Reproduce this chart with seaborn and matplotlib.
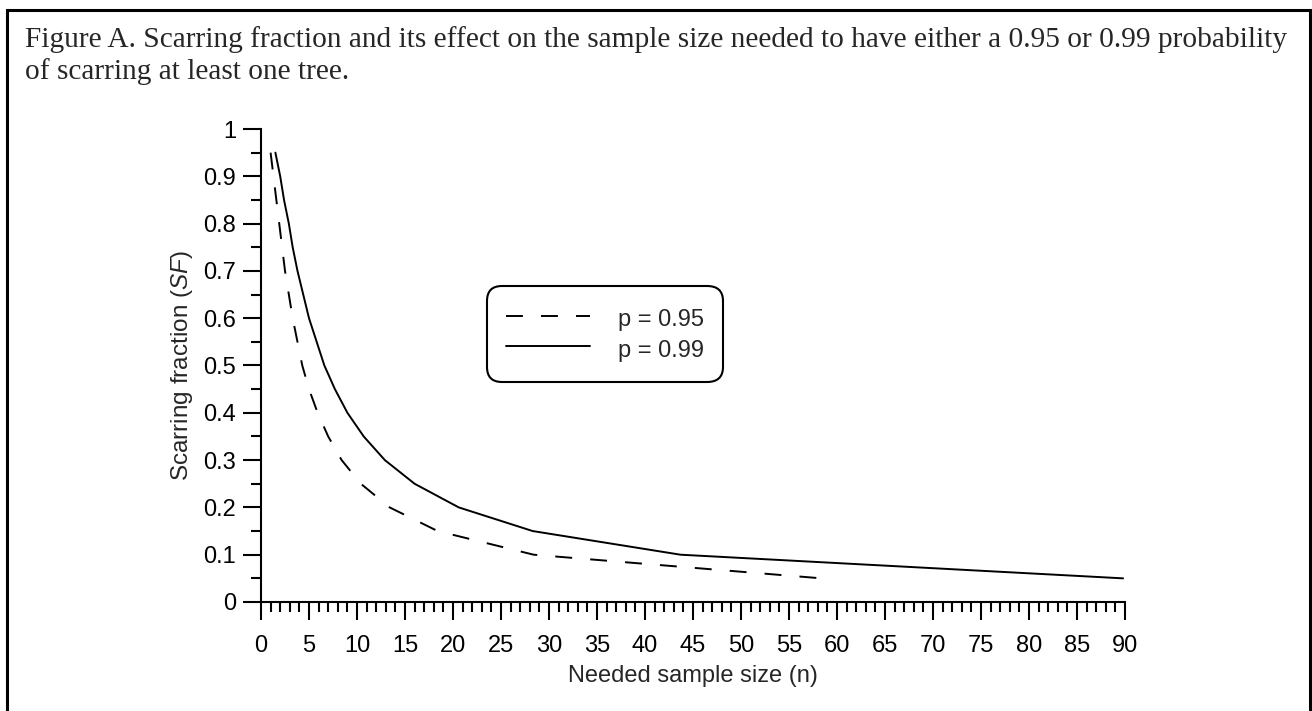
import matplotlib
matplotlib.use('Agg')
import matplotlib.pyplot as plt
import matplotlib.patches as mpatches
from matplotlib.ticker import MultipleLocator, FuncFormatter
import pandas as pd
import seaborn as sns


# Values
scarring_fraction = [0.95, 0.90, 0.85, 0.80, 0.75, 0.70, 0.65, 0.60, 0.55, 0.50,
                     0.45, 0.40, 0.35, 0.30, 0.25, 0.20, 0.15, 0.10, 0.05]
n_p95 = [1.0, 1.3, 1.6, 1.9, 2.2, 2.5, 2.9, 3.3, 3.8, 4.3,
         5.0, 5.9, 7.0, 8.4, 10.4, 13.4, 18.4, 28.4, 58.4]
n_p99 = [1.5, 2.0, 2.4, 2.9, 3.3, 3.8, 4.4, 5.0, 5.8, 6.6,
         7.7, 9.0, 10.7, 12.9, 16.0, 20.6, 28.3, 43.7, 89.8]
series_labels = ['p = 0.95', 'p = 0.99']

caption_1 = ('Figure A. Scarring fraction and its effect on the sample size '
             'needed to have either a 0.95 or 0.99 probability')
caption_2 = 'of scarring at least one tree.'


# Long-form table for seaborn
df = pd.concat([
    pd.DataFrame({'n': n_p95, 'sf': scarring_fraction, 'prob': series_labels[0]}),
    pd.DataFrame({'n': n_p99, 'sf': scarring_fraction, 'prob': series_labels[1]}),
])

sns.set_style('ticks')
plt.rcParams['font.family'] = ['Liberation Sans', 'DejaVu Sans']
plt.rcParams['mathtext.fontset'] = 'custom'
plt.rcParams['mathtext.rm'] = 'Liberation Sans'
plt.rcParams['mathtext.it'] = 'Liberation Sans:italic'

W, H = 1312, 711
fig = plt.figure(figsize=(W / 100, H / 100), dpi=100)
ax = fig.add_axes([261 / W, 1 - 602 / H, 864 / W, 473 / H])

lw = 1.4
sns.lineplot(data=df, x='n', y='sf', style='prob',
             dashes={series_labels[0]: (8.7, 9.3), series_labels[1]: ''},
             color='black', linewidth=lw, estimator=None, ax=ax)

# Axes
ax.set_xlim(0, 90)
ax.set_ylim(0, 1)
ax.xaxis.set_major_locator(MultipleLocator(5))
ax.xaxis.set_minor_locator(MultipleLocator(1))
ax.yaxis.set_major_locator(MultipleLocator(0.1))
ax.yaxis.set_minor_locator(MultipleLocator(0.05))
ax.yaxis.set_major_formatter(FuncFormatter(lambda v, p: f'{v:g}'))
sns.despine(ax=ax)
for side in ['left', 'bottom']:
    ax.spines[side].set_linewidth(1.5)
    ax.spines[side].set_color('black')
ax.tick_params(which='major', length=13, width=1.5, color='black',
               labelsize=17, labelcolor='black')
ax.tick_params(which='minor', length=7.2, width=1.5, color='black')
ax.tick_params(axis='x', which='major', pad=10.5)
ax.tick_params(axis='y', which='major', pad=5)
ax.set_xlabel('Needed sample size (n)', fontsize=17, labelpad=6)
ax.set_ylabel(r'Scarring fraction ($\mathit{SF}$)', fontsize=17.5, labelpad=6)

# Legend
old = ax.get_legend()
handles = old.legend_handles
labels = [t.get_text() for t in old.get_texts()]
old.remove()
for h in handles:
    h.set_color('black')
    h.set_linewidth(lw)
leg = ax.legend(handles, labels, loc='upper left', bbox_to_anchor=(0.262, 0.668),
                borderaxespad=0, fontsize=17, handlelength=3.55,
                handleheight=1.4, handletextpad=1.17, borderpad=0.8,
                labelspacing=0.15, frameon=True, fancybox=True, framealpha=1)
frame = leg.get_frame()
frame.set_edgecolor('black')
frame.set_linewidth(1.5)
frame.set_boxstyle('round,pad=0,rounding_size=0.64')

# Caption and border
fig.text(25 / W, 1 - 47 / H, caption_1, fontsize=21.2, family='Liberation Serif',
         va='baseline', ha='left')
fig.text(25 / W, 1 - 79 / H, caption_2, fontsize=21.2, family='Liberation Serif',
         va='baseline', ha='left')
fig.patches.append(mpatches.Rectangle((7 / W, -0.1), 1303 / W, 1 - 10 / H + 0.1,
                                      transform=fig.transFigure, fill=False,
                                      edgecolor='black', linewidth=2.2))

fig.savefig('out.png', dpi=100)
